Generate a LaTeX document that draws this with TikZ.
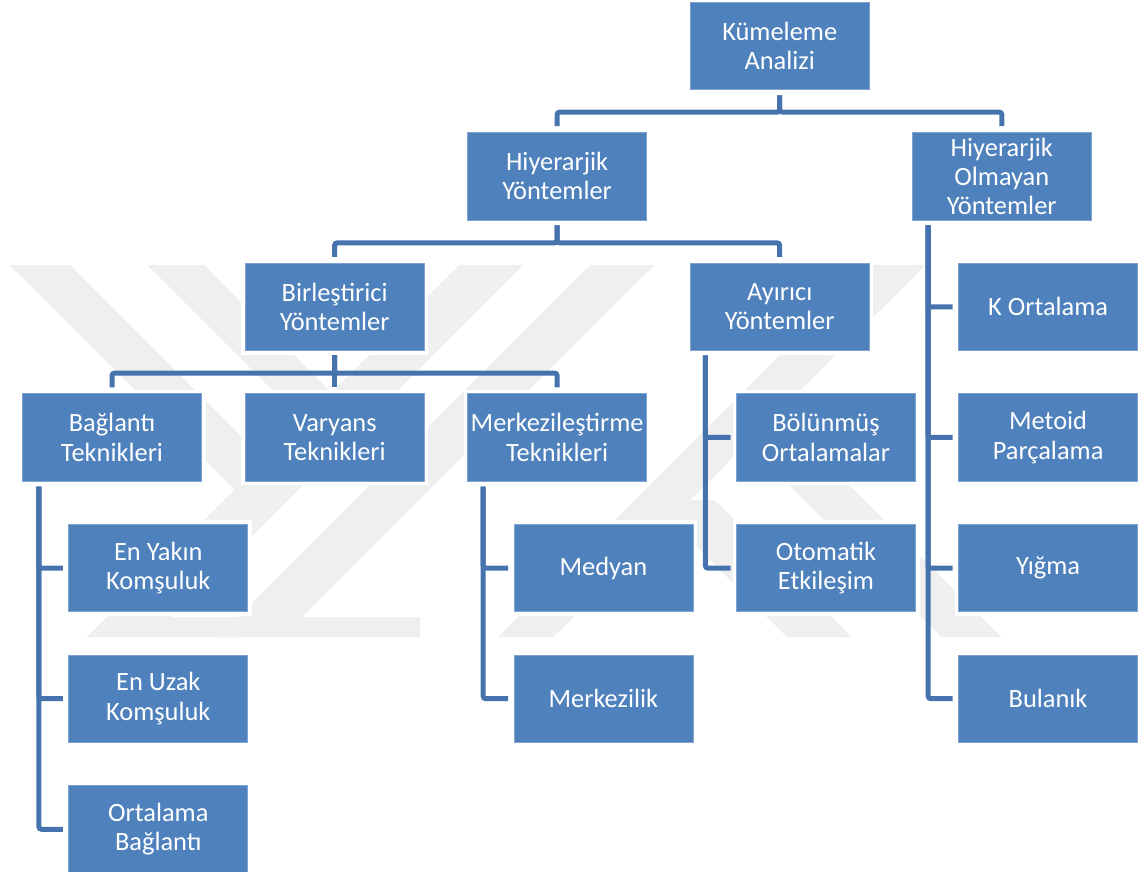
\documentclass[tikz,border=0pt]{standalone}
\usepackage{fontspec}
\setmainfont{Carlito}
\definecolor{boxblue}{HTML}{4F81BD}
\definecolor{boxedge}{HTML}{7FA3D3}
\definecolor{connblue}{HTML}{4673AE}
\definecolor{wmgray}{HTML}{EFEFEF}
\tikzset{
  box/.style={rectangle, fill=boxblue, draw=boxedge, line width=0.8pt,
    preaction={draw=white, line width=8pt},
    minimum width=179pt, minimum height=87.3pt, inner sep=0pt,
    align=center, text=white, font=\fontsize{26.4}{29.3}\selectfont},
  conn/.style={draw=connblue, line width=5pt, rounded corners=2.5pt},
  wm/.style={fill=wmgray, draw=none}
}
\begin{document}
\begin{tikzpicture}[x=1pt,y=-1pt]
\useasboundingbox (0,0) rectangle (1138,872);
\fill[white] (0,0) rectangle (1138,872);
% faint background watermark
\fill[wm] (10,265) -- (70,265) -- (296,491) -- (236,491) -- cycle;
\fill[wm] (459,265) -- (523,265) -- (151,637) -- (87,637) -- cycle;
\fill[wm] (107,617) -- (240,617) -- (240,637) -- (87,637) -- cycle;
\fill[wm] (147,265) -- (204,265) -- (427,488) -- (370,488) -- cycle;
\fill[wm] (590,265) -- (654,265) -- (282,637) -- (218,637) -- cycle;
\fill[wm] (238,617) -- (420,617) -- (420,637) -- (218,637) -- cycle;
\fill[wm] (870,265) -- (925,265) -- (553,637) -- (498,637) -- cycle;
\fill[wm] (650,500) -- (714,500) -- (851,637) -- (787,637) -- cycle;
\fill[wm] (785,481) -- (845,481) -- (1001,637) -- (941,637) -- cycle;
% boxes
\node[box] (kum)  at (779.7,45.65)   {Kümeleme\\Analizi};
\node[box] (hy)   at (557.1,176.25)  {Hiyerarjik\\Yöntemler};
\node[box] (hoy)  at (1001.8,176.25) {Hiyerarjik\\Olmayan\\Yöntemler};
\node[box] (bir)  at (334.7,306.85)  {Birleştirici\\Yöntemler};
\node[box] (ayr)  at (779.7,306.85)  {Ayırıcı\\Yöntemler};
\node[box] (kort) at (1048.1,306.85) {K Ortalama};
\node[box] (bag)  at (112,437.45)    {Bağlantı\\Teknikleri};
\node[box] (var)  at (334.7,437.45)  {Varyans\\Teknikleri};
\node[box] (merk) at (557.1,437.45)  {Merkezileştirme\\Teknikleri};
\node[box] (bol)  at (826,437.45)    {Bölünmüş\\Ortalamalar};
\node[box] (met)  at (1048.1,437.45) {Metoid\\Parçalama};
\node[box] (eyk)  at (158.3,568.05)  {En Yakın\\Komşuluk};
\node[box] (med)  at (603.4,568.05)  {Medyan};
\node[box] (oto)  at (826,568.05)    {Otomatik\\Etkileşim};
\node[box] (yig)  at (1048.1,568.05) {Yığma};
\node[box] (euk)  at (158.3,698.65)  {En Uzak\\Komşuluk};
\node[box] (mrkz) at (603.4,698.65)  {Merkezilik};
\node[box] (bul)  at (1048.1,698.65) {Bulanık};
\node[box] (ort)  at (158.3,829.25)  {Ortalama\\Bağlantı};
% top-down connectors
\foreach \c in {hy,hoy}
  \draw[conn] ([yshift=-5.7pt]kum.south) -- ([yshift=-22.4pt]kum.south) -| ([yshift=6pt]\c.north);
\foreach \c in {bir,ayr}
  \draw[conn] ([yshift=-5pt]hy.south) -- ([yshift=-22.6pt]hy.south) -| ([yshift=6pt]\c.north);
\foreach \c in {bag,var,merk}
  \draw[conn] ([yshift=-4.5pt]bir.south) -- ([yshift=-22.2pt]bir.south) -| ([yshift=6pt]\c.north);
% side connectors
\foreach \c in {eyk,euk,ort}
  \draw[conn] ([xshift=16.8pt,yshift=-5pt]bag.south west) |- ([xshift=-5.5pt]\c.west);
\foreach \c in {med,mrkz}
  \draw[conn] ([xshift=16pt,yshift=-5pt]merk.south west) |- ([xshift=-5.5pt]\c.west);
\foreach \c in {bol,oto}
  \draw[conn] ([xshift=15.5pt,yshift=-4.5pt]ayr.south west) |- ([xshift=-5.5pt]\c.west);
\foreach \c in {kort,met,yig,bul}
  \draw[conn] ([xshift=16.3pt,yshift=-5pt]hoy.south west) |- ([xshift=-5.5pt]\c.west);
\end{tikzpicture}
\end{document}
